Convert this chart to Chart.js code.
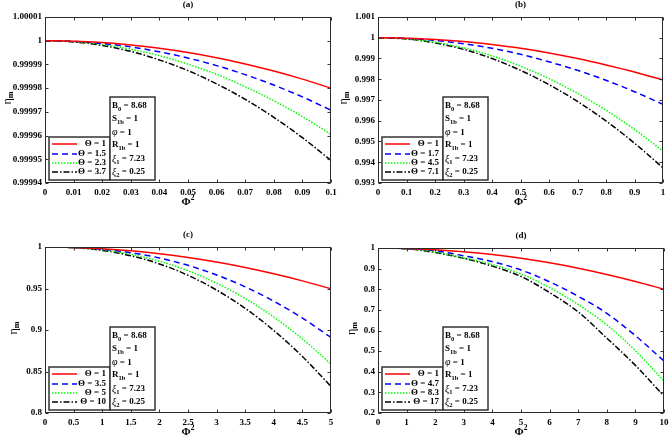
<!DOCTYPE html>
<html><head><meta charset="utf-8">
<script src="https://cdn.jsdelivr.net/npm/chart.js@4/dist/chart.umd.min.js"></script>
<style>
html,body{margin:0;padding:0;background:#fff;width:669px;height:440px;overflow:hidden}
canvas{position:absolute;left:0;top:0}
</style></head><body>
<canvas id="ca" width="669" height="440"></canvas>
<canvas id="cb" width="669" height="440"></canvas>
<canvas id="cc" width="669" height="440"></canvas>
<canvas id="cd" width="669" height="440"></canvas>
<script>
// ---------- data ----------
const xA = [0,0.01,0.02,0.03,0.04,0.05,0.06,0.07,0.08,0.09,0.1];
const thetaA = ['1','1.5','2.3','3.7'];
const a1 = [1,0.9999998,0.9999992,0.9999982,0.9999968,0.999995,0.9999928,0.9999902,0.9999872,0.9999838,0.99998];
const a2 = [1,0.9999997,0.9999988,0.9999974,0.9999953,0.9999927,0.9999895,0.9999857,0.9999813,0.9999763,0.9999707];
const a3 = [1,0.9999996,0.9999984,0.9999964,0.9999937,0.9999901,0.9999858,0.9999806,0.9999747,0.999968,0.9999605];
const a4 = [1,0.9999995,0.999998,0.9999955,0.9999919,0.9999874,0.9999818,0.9999753,0.9999677,0.9999591,0.9999495];
const xTicksA = [0,0.01,0.02,0.03,0.04,0.05,0.06,0.07,0.08,0.09,0.1];
const xLabelsA = ['0','0.01','0.02','0.03','0.04','0.05','0.06','0.07','0.08','0.09','0.1'];
const yTicksA = [0.99994,0.99995,0.99996,0.99997,0.99998,0.99999,1,1.00001];
const yLabelsA = ['0.99994','0.99995','0.99996','0.99997','0.99998','0.99999','1','1.00001'];

const xB = [0,0.1,0.2,0.3,0.4,0.5,0.6,0.7,0.8,0.9,1];
const thetaB = ['1','1.7','4.5','7.1'];
const b1 = [1,0.99998,0.99992,0.99982,0.99967,0.99949,0.99927,0.999,0.99869,0.99835,0.99796];
const b2 = [1,0.99997,0.99987,0.99971,0.99949,0.9992,0.99884,0.99843,0.99795,0.9974,0.99679];
const b3 = [1,0.99995,0.99978,0.99951,0.99913,0.99863,0.99803,0.99732,0.99651,0.99558,0.99454];
const b4 = [1,0.99994,0.99975,0.99944,0.999,0.99843,0.99774,0.99693,0.99599,0.99492,0.99373];
const xTicksB = [0,0.1,0.2,0.3,0.4,0.5,0.6,0.7,0.8,0.9,1];
const xLabelsB = ['0','0.1','0.2','0.3','0.4','0.5','0.6','0.7','0.8','0.9','1'];
const yTicksB = [0.993,0.994,0.995,0.996,0.997,0.998,0.999,1,1.001];
const yLabelsB = ['0.993','0.994','0.995','0.996','0.997','0.998','0.999','1','1.001'];

const xC = [0,0.5,1,1.5,2,2.5,3,3.5,4,4.5,5];
const thetaC = ['1','3.5','5','10'];
const c1 = [1,0.9995,0.998,0.9955,0.9919,0.9874,0.9819,0.9753,0.9677,0.9592,0.9496];
const c2 = [1,0.9995,0.9973,0.9932,0.9868,0.9779,0.9663,0.952,0.9347,0.9144,0.891];
const c3 = [1,0.9993,0.9965,0.9912,0.9829,0.9714,0.9564,0.938,0.9155,0.8893,0.859];
const c4 = [1,0.9992,0.9959,0.9895,0.9796,0.9659,0.9481,0.9261,0.8994,0.8681,0.832];
const xTicksC = [0,0.5,1,1.5,2,2.5,3,3.5,4,4.5,5];
const xLabelsC = ['0','0.5','1','1.5','2','2.5','3','3.5','4','4.5','5'];
const yTicksC = [0.8,0.85,0.9,0.95,1];
const yLabelsC = ['0.8','0.85','0.9','0.95','1'];

const xD = [0,1,2,3,4,5,6,7,8,9,10];
const thetaD = ['1','4.7','8.3','17'];
const d1 = [1,0.998,0.992,0.982,0.968,0.95,0.928,0.902,0.872,0.838,0.8];
const d2 = [1,0.997,0.987,0.962,0.934,0.893,0.836,0.766,0.683,0.575,0.452];
const d3 = [1,0.997,0.98,0.952,0.92,0.874,0.808,0.726,0.627,0.502,0.355];
const d4 = [1,0.996,0.978,0.95,0.912,0.862,0.784,0.69,0.563,0.431,0.282];
const xTicksD = [0,1,2,3,4,5,6,7,8,9,10];
const xLabelsD = ['0','1','2','3','4','5','6','7','8','9','10'];
const yTicksD = [0.2,0.3,0.4,0.5,0.6,0.7,0.8,0.9,1];
const yLabelsD = ['0.2','0.3','0.4','0.5','0.6','0.7','0.8','0.9','1'];

// ---------- styles ----------
const colors = ['#ff0000','#0000ff','#00ff00','#000000'];
const dashes = [[],[6,4],[1.5,1.5],[6,2,1.5,2]];
const FAM = '"Liberation Serif", "Times New Roman", serif';
const FB = 'bold 9px ' + FAM;
const FS = 'bold 6.5px ' + FAM;
const FI = 'italic 10px ' + FAM;

const panels = [
  {id:'ca', tag:'(a)', x:xA, ys:[a1,a2,a3,a4], th:thetaA, xt:xTicksA, xl:xLabelsA, yt:yTicksA, yl:yLabelsA, area:{l:45,t:17,r:331,b:183}, etaX:8},
  {id:'cb', tag:'(b)', x:xB, ys:[b1,b2,b3,b4], th:thetaB, xt:xTicksB, xl:xLabelsB, yt:yTicksB, yl:yLabelsB, area:{l:378,t:17,r:663,b:183}, etaX:344},
  {id:'cc', tag:'(c)', x:xC, ys:[c1,c2,c3,c4], th:thetaC, xt:xTicksC, xl:xLabelsC, yt:yTicksC, yl:yLabelsC, area:{l:45,t:247,r:331,b:413}, etaX:14},
  {id:'cd', tag:'(d)', x:xD, ys:[d1,d2,d3,d4], th:thetaD, xt:xTicksD, xl:xLabelsD, yt:yTicksD, yl:yLabelsD, area:{l:378,t:248,r:664,b:413}, etaX:352}
];

function rich(ctx, x, y, parts){
  ctx.textBaseline = 'middle'; ctx.textAlign = 'left';
  for (const [t,f,dy] of parts){ ctx.font = f; ctx.fillText(t, x, y + (dy||0)); x += ctx.measureText(t).width; }
  return x;
}
function richWidth(ctx, parts){
  let w = 0; for (const [t,f] of parts){ ctx.font = f; w += ctx.measureText(t).width; } return w;
}

function makeDecor(p){
  return {
    id:'decor',
    afterDatasetsDraw(chart){
      const ctx = chart.ctx, ca = chart.chartArea;
      const xs = chart.scales.x, ys = chart.scales.y;
      const L = Math.round(ca.left)+0.5, R = Math.round(ca.right)-0.5, T = Math.round(ca.top)+0.5, B = Math.round(ca.bottom)-0.5;
      ctx.save();
      ctx.setLineDash([]);
      // ticks inward
      ctx.strokeStyle = '#333'; ctx.lineWidth = 1;
      ctx.beginPath();
      for (const v of p.xt){ const px = Math.round(xs.getPixelForValue(v))+0.5; ctx.moveTo(px,B); ctx.lineTo(px,B-3); ctx.moveTo(px,T); ctx.lineTo(px,T+3); }
      for (const v of p.yt){ const py = Math.round(ys.getPixelForValue(v))+0.5; ctx.moveTo(L,py); ctx.lineTo(L+3,py); ctx.moveTo(R,py); ctx.lineTo(R-3,py); }
      ctx.stroke();
      // frame
      ctx.strokeStyle = '#2a2a2a';
      ctx.strokeRect(L, T, R-L, B-T);
      // panel tag
      ctx.fillStyle = '#000';
      ctx.font = 'bold 9px ' + FAM; ctx.textAlign = 'center'; ctx.textBaseline = 'middle';
      ctx.fillText(p.tag, (ca.left+ca.right)/2, ca.top-12);
      // x title Φ²
      const cx = (ca.left+ca.right)/2;
      const xparts = [['Φ','bold 11px '+FAM,0],['2','bold 7.5px '+FAM,-4]];
      rich(ctx, cx - richWidth(ctx,xparts)/2, ca.bottom+19.5, xparts);
      // y title η_m
      ctx.save();
      ctx.translate(p.etaX, (ca.top+ca.bottom)/2 - 2);
      ctx.rotate(-Math.PI/2);
      const yparts = [['η','12px '+FAM,0],['m','bold 8px '+FAM,3]];
      rich(ctx, -richWidth(ctx,yparts)/2, 0, yparts);
      ctx.restore();
      // legend box
      const lx = ca.left+4, ly = ca.bottom-46, lw = 61, lh = 43;
      ctx.fillStyle = '#fff'; ctx.fillRect(lx, ly, lw, lh);
      ctx.lineWidth = 1.5; ctx.strokeStyle = '#333'; ctx.strokeRect(lx, ly, lw, lh);
      const rowsY = [7,17,26,35];
      for (let i=0;i<4;i++){
        const yy = ly + rowsY[i];
        ctx.strokeStyle = colors[i]; ctx.lineWidth = 1.5; ctx.setLineDash(dashes[i]);
        ctx.beginPath(); ctx.moveTo(lx+3, yy); ctx.lineTo(lx+28, yy); ctx.stroke();
        ctx.setLineDash([]);
        ctx.fillStyle = '#000';
        const parts = [['Θ = '+p.th[i], FB, 0]];
        rich(ctx, lx+57-richWidth(ctx,parts), yy, parts);
      }
      // parameter box
      const px = ca.left+65, py = ca.bottom-86, pw = 45, ph = 83;
      ctx.fillStyle = '#fff'; ctx.fillRect(px, py, pw, ph);
      ctx.lineWidth = 1.5; ctx.strokeStyle = '#333'; ctx.strokeRect(px, py, pw, ph);
      ctx.fillStyle = '#000';
      const plines = [
        [['B',FB],['0',FS,3],[' = 8.68',FB]],
        [['S',FB],['1b',FS,3],[' = 1',FB]],
        [['φ',FI],[' = 1',FB]],
        [['R',FB],['1b',FS,3],[' = 1',FB]],
        [['ξ',FI],['1',FS,3],[' = 7.23',FB]],
        [['ξ',FI],['2',FS,3],[' = 0.25',FB]]
      ];
      const prow = [9,22,35.5,48,62,75];
      plines.forEach((ln,i)=> rich(ctx, px+2, py+prow[i], ln));
      ctx.restore();
    }
  };
}

const XH = 30, YW = 40;
for (const p of panels){
  const tickFont = {family: FAM, size: 9, weight: 'bold'};
  new Chart(document.getElementById(p.id), {
    type: 'line',
    data: {
      datasets: p.ys.map((ys,i)=>({
        label: 'Θ = ' + p.th[i],
        data: p.x.map((x,j)=>({x:x, y:ys[j]})),
        borderColor: colors[i], borderDash: dashes[i], borderWidth: 1.5,
        pointRadius: 0, tension: 0.4, cubicInterpolationMode: 'monotone', fill: false
      }))
    },
    options: {
      responsive: false, animation: false, events: [],
      layout: {padding: {left: p.area.l - YW, top: p.area.t, right: 669 - p.area.r, bottom: 440 - p.area.b - XH}},
      plugins: {legend: {display: false}, tooltip: {enabled: false}, title: {display: false}},
      scales: {
        x: {
          type: 'linear', min: p.xt[0], max: p.xt[p.xt.length-1],
          afterBuildTicks: s => { s.ticks = p.xt.map(v => ({value: v})); },
          ticks: {callback: (v,i) => p.xl[i], font: tickFont, color: '#000', padding: 4, maxRotation: 0, autoSkip: false},
          grid: {display: false, drawTicks: false}, border: {display: false},
          afterFit: s => { s.height = XH; s.paddingLeft = 0; s.paddingRight = 0; }
        },
        y: {
          type: 'linear', min: p.yt[0], max: p.yt[p.yt.length-1],
          afterBuildTicks: s => { s.ticks = p.yt.map(v => ({value: v})); },
          ticks: {callback: (v,i) => p.yl[i], font: tickFont, color: '#000', padding: 3, autoSkip: false},
          grid: {display: false, drawTicks: false}, border: {display: false},
          afterFit: s => { s.width = YW; s.paddingTop = 0; s.paddingBottom = 0; }
        }
      }
    },
    plugins: [makeDecor(p)]
  });
}
</script>
</body></html>
